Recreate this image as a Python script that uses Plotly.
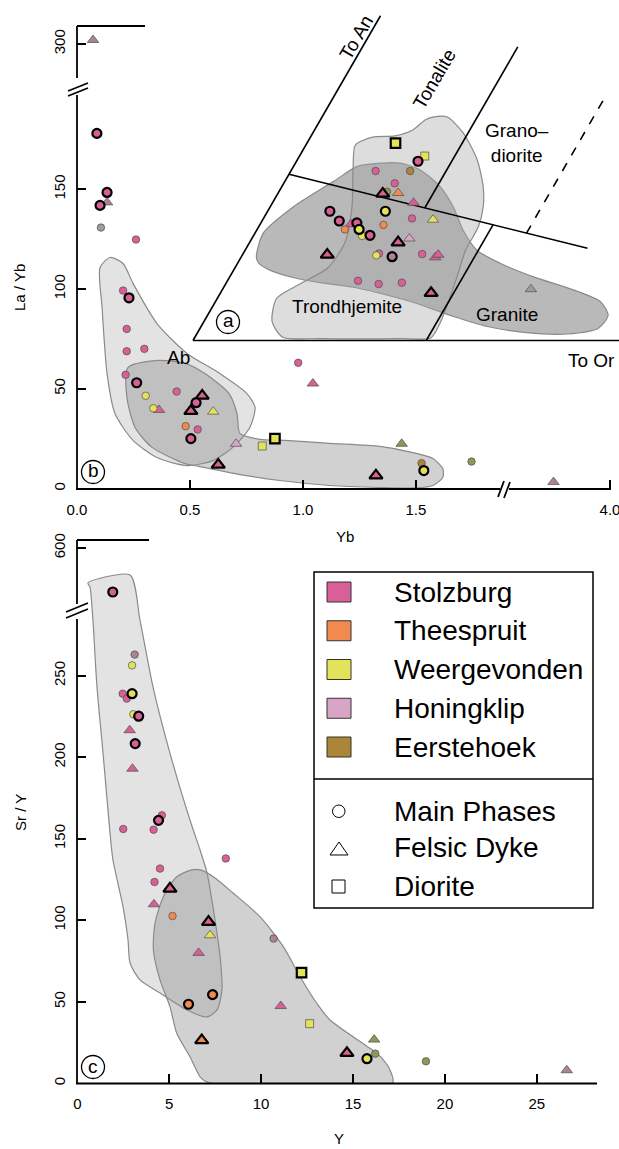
import numpy as np
import plotly.graph_objects as go

W, H = 619, 1149
FONT = "Liberation Sans, Arial, Helvetica, sans-serif"

# ---------------------------------------------------------------- colours
UNIT_COLORS = {
    "S": "#d95f97",   # Stolzburg
    "T": "#f2894f",   # Theespruit
    "W": "#e3e35b",   # Weergevonden
    "H": "#d9a5c6",   # Honingklip
    "E": "#ad8537",   # Eerstehoek
    "G": "#9c9c9c",   # other (grey)
    "O": "#8e9756",   # other (olive)
    "M": "#aa8299",   # other (mauve)
}
LEGEND_UNITS = [("Stolzburg", "S"), ("Theespruit", "T"), ("Weergevonden", "W"),
                ("Honingklip", "H"), ("Eerstehoek", "E")]
LEGEND_TYPES = ["Main Phases", "Felsic Dyke", "Diorite"]

# ---------------------------------------------------------------- (b) La/Yb vs Yb
b_yb = [0.088, 0.133, 0.102, 0.133, 0.106, 0.261, 0.204, 0.230, 0.220, 0.220,
        0.298, 0.215, 0.264, 0.304, 0.338, 0.363, 0.441, 0.554, 0.527, 0.504,
        0.603, 0.481, 0.534, 0.504, 0.704, 0.820, 0.876, 0.625, 0.979, 1.044,
        1.437, 1.323, 1.525, 1.535, 1.746, 0.071, 3.75]
b_layb = [178.0, 148.4, 141.9, 143.4, 130.8, 124.8, 99.2, 95.6, 80.0, 68.8,
          70.0, 57.0, 53.0, 46.5, 40.2, 39.4, 48.6, 46.5, 43.0, 38.8,
          38.5, 31.2, 29.6, 25.0, 22.4, 21.3, 25.0, 11.9, 63.0, 52.6,
          22.4, 6.5, 12.7, 9.0, 13.5, 302.0, 3.2]
b_unit = list("SSSMGSSSSSSSSWWSSSSSWTSSHWWSSSOSEWOMM")
b_kind = ["o", "o", "o", "^", "o", "o", "o", "o", "o", "o",
          "o", "o", "o", "o", "o", "^", "o", "^", "o", "^",
          "^", "o", "o", "o", "^", "s", "s", "^", "o", "^",
          "^", "^", "o", "o", "o", "^", "^"]
b_bold = [1, 1, 1, 0, 0, 0, 0, 1, 0, 0,
          0, 0, 1, 0, 0, 0, 0, 1, 1, 1,
          0, 0, 0, 1, 0, 0, 1, 1, 0, 0,
          0, 1, 0, 1, 0, 0, 0]

# fields in (b)
ab_field_yb = [0.146, 0.102, 0.111, 0.133, 0.168, 0.248, 0.354, 0.487, 0.602, 0.690,
               0.765, 0.788, 0.752, 0.633, 0.487, 0.354, 0.248, 0.204]
ab_field_layb = [115.8, 110.8, 90.7, 57.6, 37.6, 24.1, 15.5, 11.5, 14.0, 20.6,
                 30.6, 40.6, 47.6, 57.6, 67.7, 82.7, 102.8, 112.8]
band_field_yb = [0.226, 0.358, 0.478, 0.566, 0.673, 0.708, 0.721, 0.810, 0.920, 1.119,
                 1.341, 1.487, 1.575, 1.619, 1.619, 1.575, 1.504, 1.341, 1.119, 0.898,
                 0.721, 0.544, 0.478, 0.332, 0.257, 0.221]
band_field_layb = [60.7, 64.2, 62.7, 57.6, 47.6, 37.6, 27.6, 24.6, 24.1, 22.6,
                   21.1, 18.0, 15.0, 10.0, 5.5, 1.5, 0.3, 0.5, 1.5, 4.0,
                   7.0, 11.0, 12.5, 20.6, 30.6, 45.6]

# ---------------------------------------------------------------- (c) Sr/Y vs Y
c_y = [3.12, 2.98, 2.47, 2.98, 2.69, 3.05, 3.34, 2.85, 3.15, 3.00,
       2.50, 4.15, 4.42, 4.60, 4.50, 4.20, 8.08, 5.04, 4.17, 5.18,
       7.14, 7.22, 6.60, 10.68, 12.20, 6.05, 7.36, 11.07, 12.64, 6.77,
       16.15, 14.67, 15.76, 16.21, 18.97, 26.63, 1.93]
c_sry = [263.0, 256.4, 239.0, 239.0, 236.0, 226.4, 225.2, 216.6, 208.4, 193.0,
         156.0, 155.6, 161.3, 164.4, 131.7, 123.5, 137.9, 119.4, 109.8, 102.6,
         99.0, 90.8, 80.0, 88.8, 67.9, 48.5, 54.4, 47.4, 36.6, 26.4,
         26.8, 18.6, 15.1, 18.2, 13.5, 8.0, 573.0]
c_unit = list("MWSWSWSSSSSSSSSSSSSTSWSMWTTSWTOSWOOMS")
c_kind = ["o", "o", "o", "o", "o", "o", "o", "^", "o", "^",
          "o", "o", "o", "o", "o", "o", "o", "^", "^", "o",
          "^", "^", "^", "o", "s", "o", "o", "^", "s", "^",
          "^", "^", "o", "o", "o", "^", "o"]
c_bold = [0, 0, 0, 1, 0, 0, 1, 0, 1, 0,
          0, 0, 1, 0, 0, 0, 0, 1, 0, 0,
          1, 0, 0, 0, 1, 1, 1, 0, 0, 1,
          0, 1, 1, 0, 0, 0, 1]

lf_field_y = [0.58, 2.87, 3.41, 4.12, 5.04, 6.13, 6.68, 7.06, 7.38, 7.77,
              7.87, 7.60, 7.06, 5.97, 4.50, 3.41, 2.87, 2.76, 2.49, 1.94,
              1.78, 1.40, 1.07, 0.85, 0.69]
lf_field_sry = [306.9, 311.8, 284.2, 243.1, 202.6, 161.5, 143.1, 129.0, 108.2, 77.5,
                57.2, 45.0, 40.7, 45.0, 55.4, 63.4, 73.8, 87.9, 108.2, 137.0,
                153.5, 202.6, 243.1, 284.2, 304.4]
df_field_y = [6.22, 5.41, 4.68, 4.23, 4.14, 4.50, 5.04, 5.41, 6.13, 6.68,
              7.13, 17.16, 17.01, 16.65, 16.29, 13.75, 13.03, 12.12, 11.21, 9.94,
              8.49, 7.40, 6.68]
df_field_sry = [130.9, 126.7, 114.5, 98.2, 81.8, 63.4, 47.0, 30.7, 16.3, 4.0,
                0.4, 0.4, 8.2, 14.3, 18.4, 38.8, 49.1, 65.4, 83.8, 102.2,
                116.6, 126.7, 130.9]

# ---------------------------------------------------------------- (a) normative An-Ab-Or (%)
inset_an = [30.4, 27.6, 28.4, 26.1, 26.1, 24.2, 22.6, 22.9, 22.7, 21.2,
            19.9, 18.8, 18.6, 19.9, 18.4, 17.9, 17.1, 18.1, 17.1, 16.1,
            16.2, 17.8, 15.1, 15.7, 13.2, 13.1, 13.4, 12.9, 13.3, 12.8,
            13.2, 9.2, 8.7, 8.9, 7.3, 7.9]
inset_or = [11.8, 16.2, 16.7, 11.3, 15.9, 14.8, 14.0, 14.4, 16.0, 18.8,
            15.7, 19.8, 22.7, 8.3, 10.3, 12.1, 11.7, 12.8, 13.6, 14.5,
            15.5, 16.5, 19.8, 21.0, 11.3, 17.9, 18.1, 20.1, 23.9, 25.9,
            26.1, 17.4, 20.4, 23.4, 28.1, 41.1]
inset_unit = list("WSWSESSOTSWSWSSSTSWWSTSHSWSMSSSSSSSG")
inset_kind = ["s", "o", "s", "o", "o", "o", "^", "o", "^", "^",
              "o", "o", "^", "o", "o", "^", "o", "o", "o", "o",
              "o", "o", "^", "^", "^", "o", "o", "o", "o", "^",
              "^", "o", "o", "o", "^", "^"]
inset_bold = [1, 1, 0, 0, 0, 0, 1, 0, 0, 0,
              1, 0, 0, 1, 1, 0, 0, 1, 1, 0,
              1, 0, 1, 0, 1, 0, 0, 1, 0, 0,
              0, 0, 0, 0, 1, 0]

light_field_an = [34.4, 34.4, 32.0, 27.8, 23.6, 20.6, 17.5, 13.9, 9.8, 5.8,
                  2.7, 0.4, 0.3, 0.3, 0.5, 2.9, 6.5, 8.7, 11.2, 15.2,
                  20.6, 26.7, 30.1, 31.3, 31.5, 32.4, 34.0]
light_field_or = [14.8, 16.7, 20.0, 24.0, 26.9, 28.4, 29.3, 29.4, 30.3, 31.1,
                  31.6, 31.5, 27.6, 16.9, 11.7, 9.1, 7.9, 9.9, 12.4, 12.7,
                  10.9, 8.0, 6.6, 8.3, 11.2, 13.1, 14.0]
dark_field_an = [12.9, 16.5, 20.6, 24.5, 26.8, 27.3, 27.3, 26.3, 23.7, 20.6,
                 17.0, 13.9, 11.9, 9.8, 7.8, 6.0, 3.9, 1.9, 1.0, 1.2,
                 2.2, 3.7, 5.7, 7.0, 8.2, 8.9, 9.7, 10.8, 11.9]
dark_field_or = [2.0, 1.1, 3.1, 6.5, 8.5, 11.3, 14.0, 17.1, 21.1, 24.4,
                 27.5, 30.9, 35.0, 40.5, 46.8, 51.3, 53.4, 53.1, 49.4, 43.9,
                 38.0, 32.9, 27.0, 22.3, 17.3, 12.5, 8.5, 4.9, 2.8]

# classification boundaries, as (An, Or) end points
boundary_lines = {
    "Ab-An edge": [(0.0, 0.0), (50.0, 0.0)],
    "Ab-Or edge": [(0.0, 0.0), (0.0, 60.0)],
    "tonalite/trondhjemite": [(25.6, 0.0), (14.2, 45.5)],
    "tonalite/granodiorite": [(20.4, 20.7), (45.2, 20.7)],
    "trondhjemite/granite": [(0.0, 31.1), (17.8, 31.1)],
}
dashed_line = [(16.5, 36.2), (37.0, 36.2)]


def ternary_xy(an, orth):
    """Project (An, Or) percentages onto the plane with Ab at the origin."""
    an = np.asarray(an, dtype=float)
    orth = np.asarray(orth, dtype=float)
    return orth + an / 2.0, an * np.sqrt(3) / 2.0


# ---------------------------------------------------------------- helpers
def px(x):
    return x / W


def py(y):
    return 1 - y / H


SYMBOL = {"o": "circle", "^": "triangle-up", "s": "square"}
SIZE = {"o": 7.5, "^": 10.0, "s": 8.0}

fig = go.Figure()


def add_field(xs, ys, xa, ya, fill):
    fig.add_trace(go.Scatter(
        x=list(xs) + [xs[0]], y=list(ys) + [ys[0]], mode="lines", fill="toself",
        fillcolor=fill, line=dict(color="#8a8a8a", width=1.2, shape="spline", smoothing=0.7),
        xaxis=xa, yaxis=ya, hoverinfo="skip", showlegend=False))


def add_points(xs, ys, units, kinds, bolds, route):
    groups = {}
    for x, y, u, k, b in zip(xs, ys, units, kinds, bolds):
        xa, ya = route(x, y)
        g = groups.setdefault((b, u, k, xa, ya), ([], []))
        g[0].append(x)
        g[1].append(y)
    for (b, u, k, xa, ya), (gx, gy) in sorted(groups.items()):
        fig.add_trace(go.Scatter(
            x=gx, y=gy, mode="markers", cliponaxis=False,
            marker=dict(symbol=SYMBOL[k], size=SIZE[k] + (1.5 if b else 0.0),
                        color=UNIT_COLORS[u],
                        line=dict(color="black" if b else "#4d4d4d", width=2.2 if b else 0.7)),
            xaxis=xa, yaxis=ya, hoverinfo="skip", showlegend=False))


# ---------------------------------------------------------------- panel (b)
add_field(ab_field_yb, ab_field_layb, "x", "y", "rgba(175,175,175,0.35)")
add_field(band_field_yb, band_field_layb, "x", "y", "rgba(140,140,140,0.40)")


def route_b(yb, layb):
    return ("x2" if yb > 2.5 else "x"), ("y2" if layb > 250 else "y")


add_points(b_yb, b_layb, b_unit, b_kind, b_bold, route_b)

# ---------------------------------------------------------------- inset (a)
for an, orr, fill in [(dark_field_an, dark_field_or, "rgba(120,120,120,0.52)"),
                      (light_field_an, light_field_or, "rgba(165,165,165,0.38)")]:
    fx, fy = ternary_xy(an, orr)
    add_field(list(fx), list(fy), "x3", "y3", fill)

for name, pts in boundary_lines.items():
    lx, ly = ternary_xy([p[0] for p in pts], [p[1] for p in pts])
    fig.add_trace(go.Scatter(x=lx, y=ly, mode="lines", line=dict(color="black", width=1.6),
                             xaxis="x3", yaxis="y3", hoverinfo="skip", showlegend=False))
lx, ly = ternary_xy([p[0] for p in dashed_line], [p[1] for p in dashed_line])
fig.add_trace(go.Scatter(x=lx, y=ly, mode="lines", line=dict(color="black", width=1.6, dash="dash"),
                         xaxis="x3", yaxis="y3", hoverinfo="skip", showlegend=False))

ix, iy = ternary_xy(inset_an, inset_or)
add_points(list(ix), list(iy), inset_unit, inset_kind, inset_bold, lambda x, y: ("x3", "y3"))

# ---------------------------------------------------------------- panel (c)
add_field(lf_field_y, lf_field_sry, "x4", "y4", "rgba(175,175,175,0.35)")
add_field(df_field_y, df_field_sry, "x4", "y4", "rgba(140,140,140,0.40)")


def route_c(yv, sry):
    return "x4", ("y5" if sry > 400 else "y4")


add_points(c_y, c_sry, c_unit, c_kind, c_bold, route_c)


# ---------------------------------------------------------------- axes
def axis(**kw):
    base = dict(showgrid=False, zeroline=False, showline=False, ticks="inside",
                ticklen=9, tickwidth=1.5, tickcolor="black", automargin=False,
                ticklabeloverflow="allow",
                tickfont=dict(family=FONT, size=15, color="black"), fixedrange=True)
    base.update(kw)
    return base


layout_axes = dict(
    xaxis=axis(domain=[px(77), px(615)], range=[0, 2.381], anchor="y",
               tickvals=[0, 0.5, 1.0, 1.5], ticktext=["0.0", "0.5", "1.0", "1.5"],
               ticklabelstandoff=10),
    yaxis=axis(domain=[py(488.5), py(26)], range=[0, 231.83], anchor="x",
               tickvals=[0, 50, 100, 150], tickangle=-90, ticklabelstandoff=8),
    xaxis2=axis(domain=[px(503), px(615)], range=[3.5265, 4.0221], anchor="y",
                tickvals=[4.0], ticktext=["4.0"], ticklabelstandoff=10),
    yaxis2=axis(domain=[py(86), py(26)], range=[278.95, 309.02], anchor="x",
                tickvals=[300], tickangle=-90, ticklabelstandoff=8),
    xaxis3=dict(domain=[px(150), 1.0], range=[-5.733, 56.8], visible=False, fixedrange=True),
    yaxis3=dict(domain=[py(360), py(10)], range=[-2.6, 44.067], visible=False, fixedrange=True),
    xaxis4=axis(domain=[px(77.3), px(597)], range=[0, 28.275], anchor="y4",
                tickvals=[0, 5, 10, 15, 20, 25], ticklabelstandoff=10),
    yaxis4=axis(domain=[py(1083.3), py(540)], range=[0, 333.3], anchor="x4",
                tickvals=[0, 50, 100, 150, 200, 250], tickangle=-90, ticklabelstandoff=8),
    yaxis5=axis(domain=[py(611), py(540)], range=[561.35, 604.9], anchor="x4",
                tickvals=[600], tickangle=-90, ticklabelstandoff=8),
)

# ---------------------------------------------------------------- axis lines with breaks
shapes = []


def seg(x0, y0, x1, y1, width=1.8, color="black"):
    shapes.append(dict(type="line", xref="paper", yref="paper",
                       x0=px(x0), y0=py(y0), x1=px(x1), y1=py(y1),
                       line=dict(color=color, width=width)))


# panel (b)
seg(77, 489, 77, 95)
seg(77, 78, 77, 26)
seg(77, 26, 145, 26)
seg(68, 91, 88, 83)
seg(68, 96, 88, 88)
seg(76, 489, 500, 489)
seg(509, 489, 611, 489)
seg(498, 497, 504, 481)
seg(504, 498, 510, 482)
# panel (c)
seg(77, 1083.5, 77, 619)
seg(77, 604, 77, 540)
seg(77, 540, 149, 540)
seg(66, 618, 88, 609)
seg(66, 612, 88, 603)
seg(76, 1083.5, 597, 1083.5)

# panel letters
for cx, cy in [(228, 322), (93, 472), (93, 1067)]:
    shapes.append(dict(type="circle", xref="paper", yref="paper",
                       x0=px(cx - 11.5), x1=px(cx + 11.5), y0=py(cy + 11.5), y1=py(cy - 11.5),
                       line=dict(color="black", width=1.3)))

# legend box
shapes.append(dict(type="rect", xref="paper", yref="paper", x0=px(314), x1=px(593),
                   y0=py(908), y1=py(572), line=dict(color="black", width=1.5),
                   fillcolor="white", layer="below"))
seg(314, 779, 593, 779, width=1.5)

annotations = []


def label(text, x, y, size=15, angle=0, xanchor="center", align="center"):
    annotations.append(dict(text=text, x=px(x), y=py(y), xref="paper", yref="paper",
                            showarrow=False, textangle=angle, xanchor=xanchor,
                            yanchor="middle", align=align,
                            font=dict(family=FONT, size=size, color="black")))


row0, row_gap = 592, 38.75
for i, (name, code) in enumerate(LEGEND_UNITS):
    cy = row0 + i * row_gap
    shapes.append(dict(type="rect", xref="paper", yref="paper", x0=px(327), x1=px(351),
                       y0=py(cy + 10), y1=py(cy - 10), fillcolor=UNIT_COLORS[code],
                       line=dict(color="#333333", width=1)))
    label(name, 392, cy, size=28, xanchor="left")

type_rows = [811, 848, 886]
for name, cy in zip(LEGEND_TYPES, type_rows):
    label(name, 392, cy, size=28, xanchor="left")
shapes.append(dict(type="circle", xref="paper", yref="paper", x0=px(332.5), x1=px(345),
                   y0=py(817.5), y1=py(805), line=dict(color="black", width=1)))
shapes.append(dict(type="path", xref="paper", yref="paper",
                   path="M %f %f L %f %f L %f %f Z" % (px(339), py(842), px(330), py(855),
                                                      px(348), py(855)),
                   line=dict(color="black", width=1)))
shapes.append(dict(type="rect", xref="paper", yref="paper", x0=px(332), x1=px(345),
                   y0=py(893), y1=py(880), line=dict(color="black", width=1)))

# axis titles
label("La / Yb", 20, 288, size=15, angle=-90)
label("Yb", 345, 536, size=15)
label("Sr / Y", 20, 813, size=15, angle=-90)
label("Y", 339, 1138, size=15)

# field names in (a) and (b)
label("To An", 356, 37, size=19, angle=-59.7)
label("Tonalite", 435, 79, size=19, angle=-59.7)
label("Grano–<br>diorite", 517, 143, size=19)
label("Trondhjemite", 347, 307, size=19)
label("Granite", 507, 315, size=19)
label("To Or", 591, 360, size=19)
label("Ab", 178, 357, size=19)

label("a", 228, 321, size=19)
label("b", 93, 471, size=19)
label("c", 93, 1066, size=19)

fig.update_layout(
    template="none",
    width=W, height=H,
    margin=dict(l=0, r=0, t=0, b=0),
    paper_bgcolor="white",
    plot_bgcolor="rgba(0,0,0,0)",
    showlegend=False,
    font=dict(family=FONT, color="black"),
    shapes=shapes,
    annotations=annotations,
    **layout_axes,
)

fig.write_html("out.html")
